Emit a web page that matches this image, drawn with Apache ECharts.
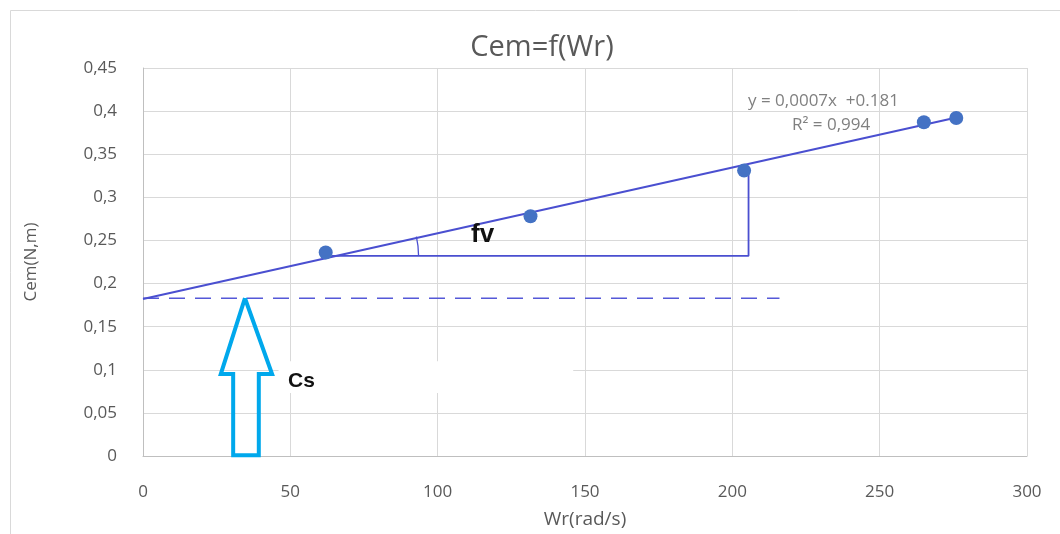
<!DOCTYPE html>
<html><head><meta charset="utf-8">
<script src="https://cdn.jsdelivr.net/npm/echarts@6/dist/echarts.min.js"></script>
<style>html,body{margin:0;padding:0;background:#fff}#c{width:1060px;height:534px}</style>
</head><body><div id="c"></div>
<script>
// Measured points Cem = f(Wr)
const wr = [62, 131.5, 204, 265, 276];
const cem = [0.236, 0.278, 0.331, 0.387, 0.392];
// Trendline end points
const trendLine = [[0, 0.182], [278, 0.394]];
// Cs dashed level
const csLine = [[0, 0.183], [216, 0.183]];
// fv triangle
const fvTriangle = [[64, 0.232], [205.5, 0.232], [205.5, 0.334]];
// Cs arrow outline
const arrowOutline = [[34.6, 0.183], [43.8, 0.095], [39.3, 0.095], [39.3, 0.001], [30.6, 0.001], [30.6, 0.095], [26.4, 0.095], [34.6, 0.183]];
// white patch area
const patch = [[46, 0.073], [146, 0.11]];
const yTicks = ['0','0,05','0,1','0,15','0,2','0,25','0,3','0,35','0,4','0,45'];

const chart = echarts.init(document.getElementById('c'));
const gray = '#595959';
chart.setOption({
  animation: false,
  backgroundColor: '#fff',
  title: {text: 'Cem=f(Wr)', left: 537, top: 28, textAlign: 'center',
    textStyle: {fontFamily: 'Open Sans', fontSize: 29, fontWeight: 'normal', color: gray}},
  grid: {left: 143, right: 33, top: 68, bottom: 78, outerBoundsMode: 'none', containLabel: false},
  xAxis: {type: 'value', min: 0, max: 300, interval: 50,
    name: 'Wr(rad/s)', nameLocation: 'middle', nameGap: 54,
    nameTextStyle: {fontFamily: 'Open Sans', fontSize: 19, color: gray},
    axisLine: {show: true, lineStyle: {color: '#bfbfbf'}}, axisTick: {show: false},
    axisLabel: {margin: 28, fontFamily: 'Open Sans', fontSize: 17, color: gray},
    splitLine: {show: true, lineStyle: {color: '#d9d9d9'}}},
  yAxis: {type: 'value', min: 0, max: 0.45, interval: 0.05,
    name: 'Cem(N,m)', nameLocation: 'middle', nameGap: 103,
    nameTextStyle: {fontFamily: 'Open Sans', fontSize: 17, color: gray},
    axisLine: {show: true, lineStyle: {color: '#bfbfbf'}}, axisTick: {show: false},
    axisLabel: {margin: 26, fontFamily: 'Open Sans', fontSize: 17, color: gray,
      formatter: (v) => yTicks[Math.round(v / 0.05)]},
    splitLine: {show: true, lineStyle: {color: '#d9d9d9'}}},
  graphic: [
    {type: 'rect', shape: {x: 10.5, y: 10.5, width: 1200, height: 700}, style: {fill: 'none', stroke: '#d9d9d9', lineWidth: 1}, z: -1},
    {type: 'text', left: 748, top: 93, style: {text: 'y = 0,0007x  +0.181', font: '17px "Open Sans"', fill: '#808080'}, z: 10},
    {type: 'text', left: 792, top: 117, style: {text: 'R² = 0,994', font: '17px "Open Sans"', fill: '#808080'}, z: 10},
    {type: 'text', left: 471, top: 222, style: {text: 'fv', font: 'bold 26px "Liberation Sans"', fill: '#111'}, z: 10},
    {type: 'text', left: 288, top: 371, style: {text: 'Cs', font: 'bold 21px "Liberation Sans"', fill: '#111'}, z: 10}
  ],
  series: [
    {type: 'custom', silent: true, z: 1, data: [0],
      renderItem: (p, api) => {
        const a = api.coord(patch[0]), b = api.coord(patch[1]);
        return {type: 'rect', shape: {x: a[0], y: b[1], width: b[0] - a[0], height: a[1] - b[1]}, style: {fill: '#fff'}};
      }},
    {type: 'line', data: csLine, symbol: 'none', silent: true, z: 3,
      lineStyle: {color: '#5558d8', width: 1.5, type: [16, 10]}},
    {type: 'line', data: fvTriangle, symbol: 'none', silent: true, z: 3,
      lineStyle: {color: '#4a4fd0', width: 1.8}},
    {type: 'custom', silent: true, z: 3, data: [0],
      renderItem: (p, api) => {
        const c = api.coord(fvTriangle[0]);
        return {type: 'arc', shape: {cx: c[0], cy: c[1], r: 87, startAngle: -0.225, endAngle: 0, clockwise: true},
          style: {stroke: '#4a4fd0', lineWidth: 1.3, fill: 'none'}};
      }},
    {type: 'line', data: arrowOutline, symbol: 'none', silent: true, z: 4,
      lineStyle: {color: '#00a8ec', width: 4, join: 'miter'}},
    {type: 'line', data: trendLine, symbol: 'none', silent: true, z: 5,
      lineStyle: {color: '#4a4fd0', width: 2}},
    {type: 'scatter', data: wr.map((x, i) => [x, cem[i]]), symbolSize: 14, z: 6,
      itemStyle: {color: '#4472c4', opacity: 1}}
  ]
});
</script></body></html>
